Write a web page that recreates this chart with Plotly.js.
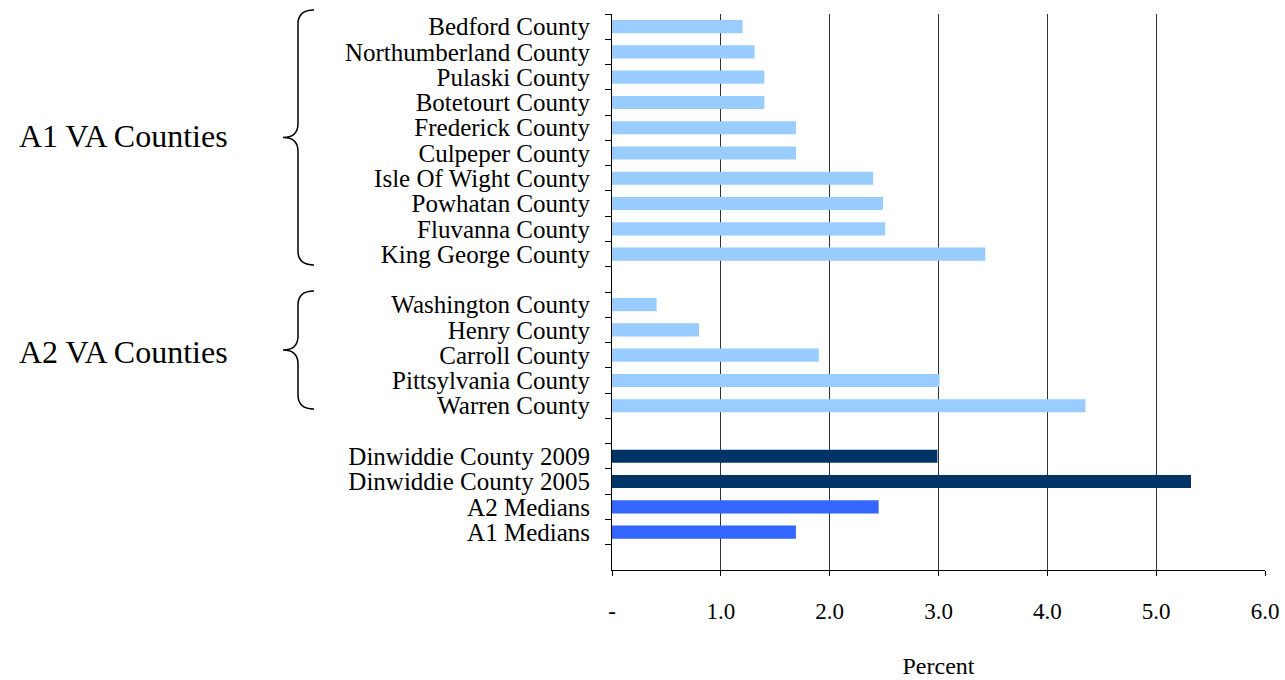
<!DOCTYPE html>
<html>
<head>
<meta charset="utf-8">
<script src="https://cdn.plot.ly/plotly-3.0.1.min.js"></script>
<style>html,body{margin:0;padding:0;background:#fff;}#chart{width:1285px;height:680px;}</style>
</head>
<body>
<div id="chart"></div>
<script>
// Category order, top to bottom (blank rows are spacer categories)
const categoryOrder = [
  "Bedford County", "Northumberland County", "Pulaski County", "Botetourt County",
  "Frederick County", "Culpeper County", "Isle Of Wight County", "Powhatan County",
  "Fluvanna County", "King George County", " ",
  "Washington County", "Henry County", "Carroll County", "Pittsylvania County", "Warren County", "  ",
  "Dinwiddie County 2009", "Dinwiddie County 2005", "A2 Medians", "A1 Medians", "   "
];

const a1Counties = ["Bedford County", "Northumberland County", "Pulaski County", "Botetourt County",
  "Frederick County", "Culpeper County", "Isle Of Wight County", "Powhatan County",
  "Fluvanna County", "King George County"];
const a1Values = [1.2, 1.31, 1.4, 1.4, 1.69, 1.69, 2.4, 2.49, 2.51, 3.43];

const a2Counties = ["Washington County", "Henry County", "Carroll County", "Pittsylvania County", "Warren County"];
const a2Values = [0.41, 0.8, 1.9, 3.01, 4.35];

const dinwiddieLabels = ["Dinwiddie County 2009", "Dinwiddie County 2005"];
const dinwiddieValues = [2.99, 5.32];

const medianLabels = ["A2 Medians", "A1 Medians"];
const medianValues = [2.45, 1.69];

const xTickVals = [0, 1, 2, 3, 4, 5, 6];
const xTickText = ["-", "1.0", "2.0", "3.0", "4.0", "5.0", "6.0"];

const groupLabels = ["A1 VA Counties", "A2 VA Counties"];

// layout geometry (pixels)
const W = 1285, H = 680, L = 612, R = 20, T = 14, B = 110;
const pw = W - L - R, ph = H - T - B;
const px = x => (x - L) / pw;
const py = y => (H - B - y) / ph;

function brace(xEnd, xMid, xTip, yTop, yBot) {
  const yc = (yTop + yBot) / 2;
  const c = 14;
  const p = (x, y) => px(x) + "," + py(y);
  return "M" + p(xEnd, yTop) +
    " Q" + p(xMid, yTop) + " " + p(xMid, yTop + c) +
    " L" + p(xMid, yc - c) +
    " Q" + p(xMid, yc) + " " + p(xTip, yc) +
    " Q" + p(xMid, yc) + " " + p(xMid, yc + c) +
    " L" + p(xMid, yBot - c) +
    " Q" + p(xMid, yBot) + " " + p(xEnd, yBot);
}

const font = "Liberation Serif, Times New Roman, serif";
const barW = 0.52;

const traces = [
  {type: "bar", orientation: "h", y: a1Counties, x: a1Values, width: barW, marker: {color: "#99CCFF"}, hoverinfo: "x+y"},
  {type: "bar", orientation: "h", y: a2Counties, x: a2Values, width: barW, marker: {color: "#99CCFF"}, hoverinfo: "x+y"},
  {type: "bar", orientation: "h", y: dinwiddieLabels, x: dinwiddieValues, width: barW, marker: {color: "#003366"}, hoverinfo: "x+y"},
  {type: "bar", orientation: "h", y: medianLabels, x: medianValues, width: barW, marker: {color: "#3366FF"}, hoverinfo: "x+y"}
];

const layout = {
  width: W, height: H,
  margin: {l: L, r: R, t: T, b: B, pad: 0},
  paper_bgcolor: "#fff", plot_bgcolor: "#fff",
  showlegend: false,
  barmode: "overlay",
  font: {family: font, color: "#000", size: 22},
  xaxis: {
    range: [0, 6], tickmode: "array", tickvals: xTickVals, ticktext: xTickText,
    showgrid: true, gridcolor: "#333", gridwidth: 1,
    zeroline: false, showline: true, linecolor: "#000", linewidth: 1,
    ticks: "outside", ticklen: 5, tickcolor: "#000",
    ticklabelstandoff: 15,
    tickfont: {family: font, size: 23, color: "#000"},
    title: {text: "Percent", font: {family: font, size: 24, color: "#000"}, standoff: 34},
    fixedrange: true
  },
  yaxis: {
    type: "category", categoryorder: "array", categoryarray: categoryOrder,
    tickmode: "linear", dtick: 1, tick0: 0,
    range: [categoryOrder.length - 0.5, -0.5],
    tickson: "boundaries", ticks: "outside", ticklen: 6, tickcolor: "#000",
    showgrid: false, zeroline: false, showline: true, linecolor: "#000", linewidth: 1,
    ticklabelstandoff: 16,
    tickfont: {family: font, size: 25, color: "#000"},
    fixedrange: true
  },
  shapes: [
    {type: "path", xref: "paper", yref: "paper", path: brace(314, 298, 283, 10, 265), line: {color: "#000", width: 1.5}},
    {type: "path", xref: "paper", yref: "paper", path: brace(314, 298, 283, 291, 409), line: {color: "#000", width: 1.5}}
  ],
  annotations: [
    {xref: "paper", yref: "paper", x: px(123), y: py(136), text: groupLabels[0], showarrow: false, xanchor: "center", yanchor: "middle", font: {family: font, size: 32, color: "#000"}},
    {xref: "paper", yref: "paper", x: px(123), y: py(352), text: groupLabels[1], showarrow: false, xanchor: "center", yanchor: "middle", font: {family: font, size: 32, color: "#000"}}
  ]
};

Plotly.newPlot("chart", traces, layout, {displayModeBar: false, staticPlot: true});
</script>
</body>
</html>
